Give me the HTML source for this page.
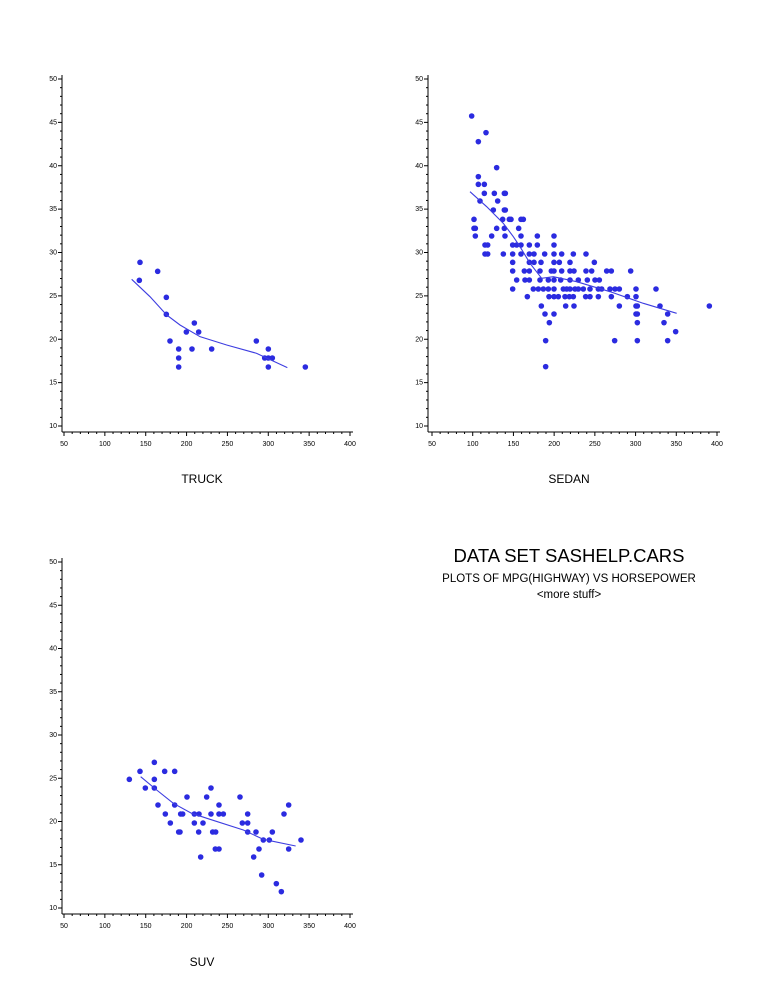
<!DOCTYPE html>
<html><head><meta charset="utf-8"><style>
html,body{margin:0;padding:0;background:#fff;width:768px;height:999px;overflow:hidden}
svg{display:block}
text{font-family:"Liberation Sans",sans-serif;fill:#000}
</style></head><body>
<svg id="s" width="768" height="999" viewBox="0 0 768 999" xmlns="http://www.w3.org/2000/svg">
<text x="202" y="483" font-size="12" text-anchor="middle">TRUCK</text>
<text x="569" y="483" font-size="12" text-anchor="middle">SEDAN</text>
<text x="202" y="966" font-size="12" text-anchor="middle">SUV</text>
<text x="569" y="562" font-size="18.5" text-anchor="middle">DATA SET SASHELP.CARS</text>
<text x="569" y="582" font-size="11.5" text-anchor="middle">PLOTS OF MPG(HIGHWAY) VS HORSEPOWER</text>
<text x="569" y="598" font-size="11.5" text-anchor="middle">&lt;more stuff&gt;</text>
</svg>
<script>
var S=document.getElementById('s'),NS='http://www.w3.org/2000/svg';
function el(t,a){var e=document.createElementNS(NS,t);for(var k in a)e.setAttribute(k,a[k]);S.appendChild(e);return e;}
function axes(ax,x0,x1,yTop,yBot,axY){
 el('line',{x1:ax,y1:yTop-4,x2:ax,y2:axY,stroke:'#000','stroke-width':1});
 el('line',{x1:ax,y1:axY,x2:x1+3,y2:axY,stroke:'#000','stroke-width':1});
 for(var v=10;v<=50;v++){var y=yBot-(v-10)*(yBot-yTop)/40;var maj=v%5==0;
  el('line',{x1:ax-(maj?4:2),y1:y,x2:ax,y2:y,stroke:'#000','stroke-width':1});
  if(maj){var t=el('text',{x:ax-5,y:y+2,'font-size':7,'text-anchor':'end'});t.textContent=v;}}
 for(var h=50;h<=400;h+=10){var x=x0+(h-50)*(x1-x0)/350;var maj=h%50==0;
  el('line',{x1:x,y1:axY,x2:x,y2:axY+(maj?4:2),stroke:'#000','stroke-width':1});
  if(maj){var t=el('text',{x:x,y:axY+14,'font-size':7,'text-anchor':'middle'});t.textContent=h;}}
}
function plot(ox,oy,pts,curve){
 pts.forEach(function(p){el('circle',{cx:ox+p[0]/3,cy:oy+p[1]/3,r:2.8,fill:'#2b2be0'});});
 el('polyline',{points:curve.map(function(p){return (ox+p[0]/3)+','+(oy+p[1]/3)}).join(' '),fill:'none',stroke:'#3d3de0','stroke-width':1.1});
}
axes(62,64,350,79,426,432);
axes(428,432,717,79,426,432);
axes(62,64,350,562,908,914);
plot(40,70,[[300,577],[298,631],[353,604],[379,682],[379,733],[390,813],[416,837],[416,864],[416,891],[439,786],[456,837],[463,759],[476,786],[515,837],[649,813],[674,864],[685,837],[685,864],[685,891],[697,864],[796,891]],
 [[275,628],[330,680],[380,735],[420,765],[480,800],[560,825],[650,850],[742,893]]);
plot(410,100,[[185,48],[205,125],[228,98],[260,203],[205,230],[205,253],[223,253],[223,280],[253,280],[283,280],[286,280],[210,303],[250,330],[283,330],[286,330],[263,303],[192,358],[192,385],[196,385],[196,408],[245,408],[260,385],[283,385],[285,408],[278,358],[298,358],[303,358],[333,358],[340,358],[326,385],[333,408],[225,435],[233,435],[225,462],[233,462],[280,462],[308,435],[320,435],[333,435],[358,435],[382,408],[382,435],[308,462],[333,462],[358,462],[372,462],[404,462],[432,408],[432,435],[432,462],[308,487],[358,487],[372,487],[393,487],[432,487],[448,487],[455,462],[480,487],[490,462],[308,513],[343,513],[358,513],[390,513],[424,513],[432,513],[455,513],[480,513],[492,513],[528,462],[528,513],[545,513],[553,487],[590,513],[604,513],[662,513],[320,540],[345,540],[358,540],[390,540],[415,540],[432,540],[452,540],[480,540],[505,540],[532,540],[555,540],[568,540],[308,567],[370,567],[385,567],[400,567],[415,567],[432,567],[460,567],[470,567],[480,567],[495,567],[505,567],[520,567],[540,567],[565,567],[575,567],[600,567],[615,567],[628,567],[678,567],[738,567],[352,590],[417,590],[432,590],[445,590],[465,590],[478,590],[490,590],[527,590],[540,590],[565,590],[604,590],[652,590],[678,590],[394,618],[467,618],[492,618],[628,618],[678,618],[682,618],[750,618],[898,618],[405,642],[432,642],[678,642],[682,642],[773,642],[418,668],[682,668],[762,668],[797,695],[407,722],[614,722],[682,722],[773,722],[407,800]],
 [[180,275],[230,320],[280,370],[310,410],[330,440],[360,490],[395,535],[430,530],[500,545],[600,575],[700,610],[800,640]]);
plot(110,750,[[58,88],[90,64],[133,37],[164,64],[194,64],[133,88],[106,114],[133,114],[144,165],[194,165],[166,192],[212,192],[218,192],[181,219],[206,246],[210,246],[231,141],[290,141],[303,114],[253,192],[267,192],[303,192],[327,165],[327,192],[340,192],[253,219],[279,219],[266,246],[308,246],[317,246],[316,297],[327,297],[272,321],[390,141],[413,192],[397,219],[413,219],[413,246],[438,246],[487,246],[460,270],[478,270],[447,297],[431,321],[455,375],[499,401],[514,425],[522,192],[536,165],[536,297],[573,270]],
 [[92,80],[140,120],[190,160],[245,190],[300,208],[400,240],[460,268],[557,288]]);
</script>
</body></html>
